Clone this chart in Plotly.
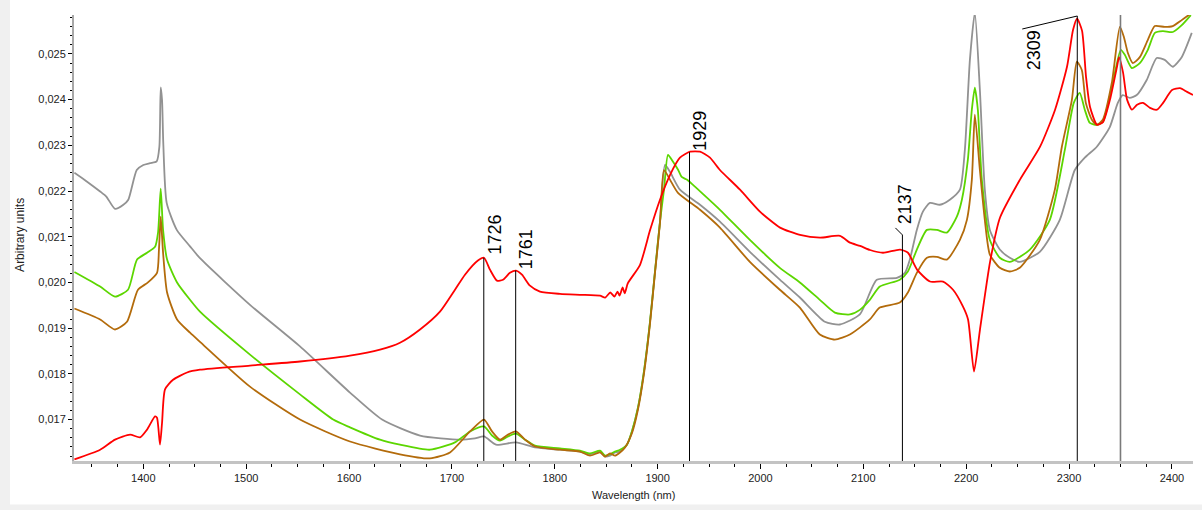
import plotly.graph_objects as go

# ---------------- data ----------------
grey_nm = [1333, 1345, 1358, 1364, 1372.5, 1380.6, 1385.4, 1393.6, 1400, 1406.5, 1413, 1415.6, 1416.9, 1418.2, 1419.4, 1422.7, 1432.5, 1445.4, 1455.1,
           1503.7, 1552.3, 1600.9, 1632.1, 1669.0, 1707.9, 1722.4, 1731.2, 1742.8, 1762.3, 1780.7, 1805.1, 1824.5, 1834.3, 1844.0, 1848.9, 1853.7, 1858.5, 1863.4,
           1870.2, 1875.0, 1880.9, 1886.7, 1892.6, 1897.4, 1902.3, 1907.2, 1912.0, 1921.7, 1941.2, 1960.6, 1989.7, 2018.8, 2038.3, 2062.6, 2077.2, 2096.6,
           2113.1, 2132.6, 2140.4, 2145.2, 2152.0, 2157.9, 2164.7, 2174.4, 2184.1, 2193.9, 2198.7, 2203.6, 2208.4, 2213.3, 2218.1, 2223.0, 2232.7, 2242.4,
           2252.1, 2271.6, 2291.0, 2305.6, 2315.3, 2327.0, 2339.6, 2347.4, 2352.2, 2359.0, 2365.8, 2375.5, 2385.2, 2393.0, 2400.8, 2409.5, 2419.3]
grey_val = [0.02240, 0.02221, 0.02199, 0.02188, 0.02161, 0.02170, 0.02181, 0.02246, 0.02257, 0.02261, 0.02265, 0.02297, 0.02427, 0.02399, 0.02305, 0.02174, 0.02115, 0.02079, 0.02053,
            0.01951, 0.01860, 0.01759, 0.01700, 0.01665, 0.01656, 0.01659, 0.01663, 0.01645, 0.01650, 0.01639, 0.01634, 0.01630, 0.01624, 0.01630, 0.01619, 0.01621, 0.01628, 0.01630,
            0.01645, 0.01674, 0.01726, 0.01805, 0.01914, 0.02023, 0.02133, 0.02257, 0.02242, 0.02203, 0.02170, 0.02133, 0.02067, 0.02006, 0.01967, 0.01914, 0.01908, 0.01930,
            0.02006, 0.02010, 0.02021, 0.02050, 0.02115, 0.02155, 0.02174, 0.02170, 0.02181, 0.02203, 0.02290, 0.02487, 0.02590, 0.02421, 0.02203, 0.02115, 0.02072, 0.02054,
            0.02045, 0.02067, 0.02137, 0.02246, 0.02273, 0.02297, 0.02340, 0.02393, 0.02410, 0.02404, 0.02410, 0.02443, 0.02491, 0.02487, 0.02472, 0.02493, 0.02546]

green_nm = [1333, 1358, 1372.5, 1385.1, 1393.9, 1403.6, 1411.4, 1414.3, 1416.9, 1419.2, 1423.1, 1432.8, 1445.4, 1455.1,
            1503.7, 1552.3, 1584.6, 1600.9, 1630.1, 1649.5, 1678.7, 1702.9, 1717.6, 1731.2, 1739.0, 1746.8, 1754.5, 1762.3, 1771.1, 1780.8, 1805.1,
            1824.5, 1834.3, 1844.0, 1848.9, 1853.7, 1858.5, 1863.4,
            1870.2, 1875.0, 1880.9, 1886.7, 1892.6, 1897.4, 1902.3, 1906.2, 1910.1, 1915.0, 1920.0, 1923.4, 1928.3, 1934.1, 1942.9, 1960.6, 1989.7,
            2018.8, 2038.3, 2057.7, 2072.3, 2086.9, 2096.6, 2106.3, 2116.0, 2135.5, 2143.3, 2152.0, 2161.8, 2171.5, 2181.2, 2190.9, 2195.8, 2201.6,
            2205.5, 2208.4, 2211.3, 2215.2, 2223.0, 2232.7, 2242.4, 2261.9, 2281.3, 2295.9, 2304.6, 2310.4, 2315.3, 2320.2, 2327.0, 2332.8, 2342.5,
            2350.3, 2354.2, 2361.0, 2368.8, 2376.6, 2383.4, 2391.2, 2400.9, 2409.6, 2418.4]
green_val = [0.02023, 0.01991, 0.01969, 0.01984, 0.02050, 0.02065, 0.02078, 0.02109, 0.02205, 0.02115, 0.02050, 0.02000, 0.01962, 0.01936,
             0.01842, 0.01755, 0.01700, 0.01683, 0.01656, 0.01645, 0.01634, 0.01650, 0.01674, 0.01685, 0.01665, 0.01654, 0.01663, 0.01669, 0.01656, 0.01643, 0.01637,
             0.01632, 0.01626, 0.01632, 0.01621, 0.01624, 0.01630, 0.01634,
             0.01645, 0.01674, 0.01726, 0.01805, 0.01914, 0.02023, 0.02133, 0.02203, 0.02279, 0.02264, 0.02246, 0.02231, 0.02225, 0.02214, 0.02196, 0.02159, 0.02093,
             0.02032, 0.02000, 0.01962, 0.01934, 0.01930, 0.01940, 0.01962, 0.01991, 0.02006, 0.02024, 0.02072, 0.02115, 0.02115, 0.02109, 0.02144, 0.02181, 0.02268,
             0.02378, 0.02426, 0.02378, 0.02225, 0.02093, 0.02054, 0.02045, 0.02072, 0.02137, 0.02290, 0.02393, 0.02415, 0.02378, 0.02349, 0.02345, 0.02351, 0.02437,
             0.02509, 0.02498, 0.02469, 0.02480, 0.02509, 0.02546, 0.02550, 0.02548, 0.02563, 0.02585]

brown_nm = [1333, 1358, 1372.5, 1384.1, 1394.8, 1404.5, 1413.3, 1415.2, 1416.9, 1419.2, 1423.1, 1432.8, 1445.4, 1455.1,
            1503.7, 1552.3, 1600.9, 1649.5, 1678.7, 1698.1, 1717.6, 1731.2, 1739.0, 1746.8, 1754.5, 1762.3, 1771.1, 1780.8, 1805.1,
            1824.5, 1834.3, 1844.0, 1848.9, 1853.7, 1858.5, 1863.4, 1868.3,
            1875.0, 1880.9, 1886.7, 1892.6, 1897.4, 1902.3, 1906.2, 1912.0, 1919.8, 1941.2, 1960.6, 1989.7, 2018.8, 2038.3, 2057.7, 2072.3, 2086.9,
            2106.3, 2116.0, 2135.5, 2143.3, 2152.0, 2161.8, 2171.5, 2181.2, 2193.9, 2200.7, 2205.5, 2208.4, 2213.3, 2218.1, 2223.0, 2232.7, 2242.4,
            2252.1, 2271.6, 2286.2, 2293.0, 2302.7, 2307.6, 2312.4, 2316.3, 2322.2, 2327.0, 2332.8, 2341.6, 2349.4, 2353.3, 2357.2, 2362.0, 2368.8,
            2376.6, 2383.4, 2393.0, 2400.8, 2409.5, 2419.3]
brown_val = [0.01943, 0.01919, 0.01897, 0.01914, 0.01984, 0.02000, 0.02021, 0.02072, 0.02144, 0.02065, 0.01978, 0.01919, 0.01890, 0.01870,
             0.01772, 0.01700, 0.01652, 0.01624, 0.01615, 0.01628, 0.01674, 0.01700, 0.01674, 0.01656, 0.01667, 0.01674, 0.01656, 0.01641, 0.01634,
             0.01630, 0.01621, 0.01628, 0.01619, 0.01626, 0.01621, 0.01628, 0.01639,
             0.01670, 0.01722, 0.01800, 0.01910, 0.02020, 0.02130, 0.02246, 0.02225, 0.02196, 0.02159, 0.02120, 0.02045, 0.01984, 0.01945, 0.01886, 0.01875, 0.01886,
             0.01919, 0.01945, 0.01956, 0.01978, 0.02021, 0.02054, 0.02056, 0.02050, 0.02093, 0.02137, 0.02225, 0.02367, 0.02246, 0.02137, 0.02061, 0.02032, 0.02024,
             0.02032, 0.02093, 0.02203, 0.02297, 0.02399, 0.02483, 0.02465, 0.02393, 0.02356, 0.02345, 0.02356, 0.02437, 0.02559, 0.02537, 0.02502, 0.02480, 0.02493,
             0.02531, 0.02561, 0.02559, 0.02561, 0.02574, 0.02590]

red_nm = [1333, 1358, 1372.5, 1387.1, 1396.8, 1403.6, 1411.4, 1413.3, 1416.2, 1418.2, 1421.1, 1428.9, 1442.5, 1455.1,
          1503.7, 1552.3, 1600.9, 1630.1, 1649.5, 1669.0, 1688.4, 1703.0, 1712.7, 1725.3, 1731.2, 1737.0, 1743.8, 1749.6, 1756.4, 1762.3, 1768.1,
          1775.9, 1785.6, 1805.1, 1824.5, 1844.0, 1849.0, 1854.0, 1858.0, 1861.0, 1863.0, 1866.0, 1868.0, 1871.0, 1882.8, 1892.6, 1902.3, 1912.0,
          1921.7, 1931.5, 1941.2, 1950.9, 1960.6, 1980.1, 1999.5, 2019.0, 2038.4, 2057.9, 2077.3, 2087.0, 2096.8, 2106.5, 2119.1, 2135.7, 2143.4,
          2152.2, 2164.8, 2177.5, 2187.2, 2196.9, 2201.8, 2207.6, 2213.4, 2223.2, 2232.9, 2252.3, 2271.8, 2286.4, 2298.0, 2303.9, 2307.8, 2312.6,
          2316.5, 2320.4, 2327.2, 2333.0, 2339.8, 2346.6, 2348.6, 2352.5, 2356.4, 2361.2, 2366.1, 2371.9, 2378.7, 2385.5, 2391.4, 2400.1, 2407.9,
          2414.7, 2420.5]
red_val = [0.01613, 0.01634, 0.01656, 0.01667, 0.01661, 0.01678, 0.01707, 0.01704, 0.01645, 0.01693, 0.01766, 0.01787, 0.01803, 0.01809,
           0.01818, 0.01827, 0.01840, 0.01853, 0.01868, 0.01897, 0.01936, 0.01984, 0.02017, 0.02048, 0.02054, 0.02028, 0.02004, 0.02006, 0.02021, 0.02026, 0.02017,
           0.01993, 0.01980, 0.01975, 0.01973, 0.01971, 0.01967, 0.01978, 0.01969, 0.01980, 0.01971, 0.01989, 0.01976, 0.01998, 0.02038, 0.02114, 0.02181, 0.02235,
           0.02273, 0.02286, 0.02286, 0.02273, 0.02246, 0.02203, 0.02155, 0.02120, 0.02104, 0.02098, 0.02102, 0.02087, 0.02080, 0.02071, 0.02065, 0.02072, 0.02065,
           0.02028, 0.02002, 0.02002, 0.01984, 0.01947, 0.01919, 0.01805, 0.01897, 0.02045, 0.02142, 0.02225, 0.02297, 0.02378, 0.02472, 0.02553, 0.02577, 0.02551,
           0.02450, 0.02384, 0.02345, 0.02351, 0.02400, 0.02472, 0.02493, 0.02459, 0.02400, 0.02378, 0.02389, 0.02393, 0.02382, 0.02378, 0.02393, 0.02421, 0.02425,
           0.02417, 0.02410]

peak_labels = ["1726", "1761", "1929", "2137", "2309", "2347"]
peak_x = [1731, 1762, 1931, 2138, 2308, 2350]
peak_top = [0.02054, 0.02026, 0.02285, 0.02104, 0.02583, 0.02586]

x_range = [1332.6, 2420.5]
y_range = [0.016093, 0.025852]

# ---------------- figure ----------------
fig = go.Figure()
series = [("grey", grey_nm, grey_val, "#929292"),
          ("green", green_nm, green_val, "#5cd600"),
          ("brown", brown_nm, brown_val, "#b36b0b"),
          ("red", red_nm, red_val, "#ff0000")]
for name, xs, ys, col in series:
    fig.add_trace(go.Scatter(x=xs, y=ys, mode="lines", name=name,
                             line=dict(color=col, width=1.8, shape="spline", smoothing=0.6),
                             hoverinfo="skip"))

shapes = []
# background frame strips (left and bottom, light grey)
shapes.append(dict(type="rect", xref="paper", yref="paper", xsizemode="pixel", ysizemode="pixel",
                   xanchor=0, yanchor=0, x0=-74, x1=-64, y0=-60, y1=500,
                   fillcolor="#f0f0f0", line=dict(width=0), layer="below"))
shapes.append(dict(type="rect", xref="paper", yref="paper", xsizemode="pixel", ysizemode="pixel",
                   xanchor=0, yanchor=0, x0=-74, x1=1200, y0=-43.5, y1=-60,
                   fillcolor="#f0f0f0", line=dict(width=0), layer="below"))

# vertical marker lines
for lab, px, top in zip(peak_labels, peak_x, peak_top):
    col = "#7a7a7a" if lab == "2347" else "#000000"
    w = 1.6 if lab == "2347" else 1
    shapes.append(dict(type="line", xref="x", yref="y", x0=px, x1=px, y0=y_range[0], y1=top,
                       line=dict(color=col, width=w)))

# leader lines (pixel offsets from the line top)
leaders = {"2137": (-7, 7), "2309": (-55, -13)}
text_off = {"1726": (11, 23), "1761": (10, 21), "1929": (11, 21), "2137": (2, 31),
            "2309": (-43, -34), "2347": (10, -275)}
annotations = []
for lab, px, top in zip(peak_labels, peak_x, peak_top):
    if lab in leaders:
        dx, dy = leaders[lab]
        shapes.append(dict(type="line", xref="x", yref="y", xsizemode="pixel", ysizemode="pixel",
                           xanchor=px, yanchor=top, x0=dx, y0=dy, x1=0, y1=0,
                           line=dict(color="#000000", width=1)))
    ox, oy = text_off[lab]
    annotations.append(dict(x=px, y=top, xref="x", yref="y", text=lab, showarrow=False,
                            textangle=-90, xanchor="center", yanchor="middle",
                            xshift=ox, yshift=oy,
                            font=dict(family="Liberation Sans, Arial", size=18, color="#000000")))

annotations.append(dict(x=0.5, y=0, xref="paper", yref="paper", text="Wavelength (nm)", showarrow=False,
                        xanchor="center", yanchor="middle", yshift=-33.5,
                        font=dict(family="Liberation Sans, Arial", size=11, color="#222222")))
annotations.append(dict(x=0, y=0.507, xref="paper", yref="paper", text="Arbitrary units", showarrow=False,
                        textangle=-90, xanchor="center", yanchor="middle", xshift=-54,
                        font=dict(family="Liberation Sans, Arial", size=12, color="#222222")))

fig.update_layout(
    width=1202, height=510, autosize=False,
    margin=dict(l=74, r=9, t=15, b=48.5, pad=0),
    paper_bgcolor="#ffffff", plot_bgcolor="#ffffff",
    showlegend=False,
    separators=", ",
    font=dict(family="Liberation Sans, Arial", size=11, color="#222222"),
    shapes=shapes, annotations=annotations,
    xaxis=dict(range=x_range, showgrid=False, zeroline=False,
               showline=True, linecolor="#c3c3c3", linewidth=3,
               ticks="outside", ticklen=5, tickwidth=1, tickcolor="#000000",
               tick0=1400, dtick=100, tickfont=dict(size=11, color="#222222"),
               minor=dict(ticks="outside", ticklen=3, tickwidth=1, tickcolor="#000000", dtick=25, tick0=1400)),
    yaxis=dict(range=y_range, showgrid=False, zeroline=False,
               showline=True, linecolor="#a8a8a8", linewidth=2,
               ticks="outside", ticklen=4, tickwidth=1, tickcolor="#000000",
               tick0=0.017, dtick=0.001, tickformat=".3f", tickfont=dict(size=11, color="#222222"),
               minor=dict(ticks="outside", ticklen=2, tickwidth=1, tickcolor="#000000", dtick=0.0002, tick0=0.017)),
)

fig.write_html("out.html", config={"displayModeBar": False})
